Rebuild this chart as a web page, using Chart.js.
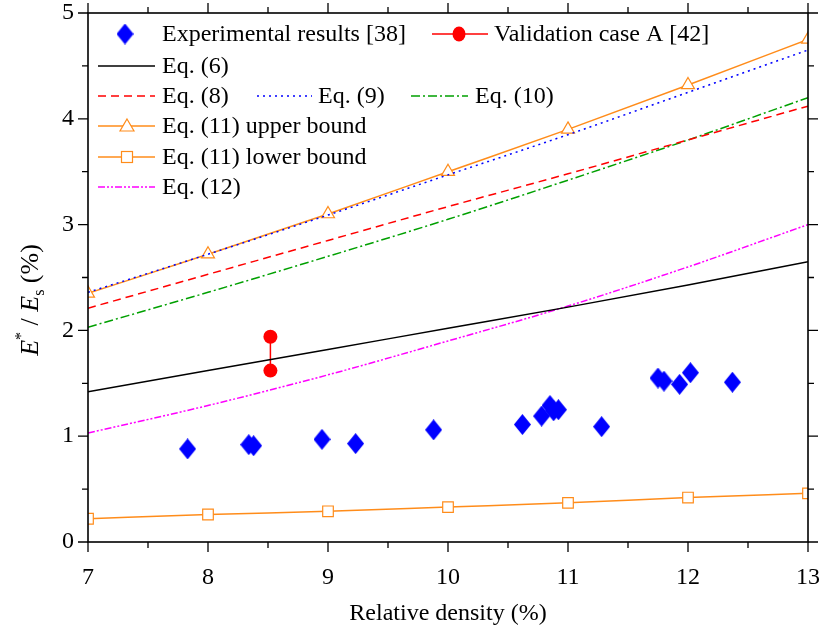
<!DOCTYPE html>
<html>
<head>
<meta charset="utf-8">
<script src="https://cdn.jsdelivr.net/npm/chart.js@4.4.0/dist/chart.umd.min.js"></script>
<style>
  html, body { margin: 0; padding: 0; background: #fff; }
</style>
</head>
<body>
<canvas id="chart" width="821" height="635"></canvas>
<script>
// ===== DATA =====
const densityEq = [7, 8, 9, 10, 11, 12, 13];
const expX = [7.83, 8.34, 8.38, 8.95, 9.23, 9.88, 10.62, 10.78, 10.85, 10.88, 10.92, 11.28, 11.75, 11.80, 11.93, 12.02, 12.37];
const expY = [0.88, 0.92, 0.91, 0.97, 0.93, 1.06, 1.11, 1.19, 1.29, 1.24, 1.25, 1.09, 1.55, 1.52, 1.49, 1.60, 1.51];
const valX = [8.52, 8.52];
const valY = [1.94, 1.62];
const eq6 = [1.42, 1.62, 1.82, 2.02, 2.22, 2.43, 2.65];
const eq8 = [2.21, 2.53, 2.85, 3.17, 3.48, 3.80, 4.12];
const eq9 = [2.36, 2.72, 3.09, 3.47, 3.85, 4.25, 4.65];
const eq10 = [2.03, 2.36, 2.70, 3.05, 3.42, 3.80, 4.20];
const eq11Upper = [2.35, 2.72, 3.10, 3.50, 3.90, 4.32, 4.75];
const eq11Lower = [0.22, 0.26, 0.29, 0.33, 0.37, 0.42, 0.46];
const eq12 = [1.03, 1.29, 1.58, 1.90, 2.23, 2.60, 3.00];
const xTicks = [7, 8, 9, 10, 11, 12, 13];
const yTicks = [0, 1, 2, 3, 4, 5];

const ORANGE = '#ff8c1a';
const SERIF = '"Liberation Serif", "Times New Roman", serif';

const pts = (xs, ys) => xs.map((x, i) => ({ x: x, y: ys[i] }));

// diamond marker (a bit taller than wide, like the original)
function makeDiamond(w, h, color) {
  const c = document.createElement('canvas');
  c.width = w; c.height = h;
  const g = c.getContext('2d');
  g.fillStyle = color;
  g.beginPath();
  g.moveTo(w / 2, 0); g.lineTo(w, h / 2); g.lineTo(w / 2, h); g.lineTo(0, h / 2);
  g.closePath(); g.fill();
  return c;
}
const diamond = makeDiamond(17, 21, '#0000ff');

function lineSet(label, data, color, dash, extra) {
  return Object.assign({
    label: label,
    data: pts(densityEq, data),
    showLine: true,
    borderColor: color,
    borderWidth: 1.5,
    borderDash: dash,
    pointRadius: 0,
    tension: 0.3,
    cubicInterpolationMode: 'monotone'
  }, extra || {});
}

// ===== LEGEND + FRAME PLUGIN =====
function drawMarker(ctx, kind, x, y) {
  ctx.save();
  ctx.setLineDash([]);
  if (kind === 'diamond') {
    ctx.drawImage(diamond, x - 8.5, y - 10.5);
  } else if (kind === 'circle') {
    ctx.fillStyle = '#ff0000';
    ctx.beginPath(); ctx.ellipse(x, y, 6.5, 7.5, 0, 0, Math.PI * 2); ctx.fill();
  } else if (kind === 'triangle') {
    ctx.fillStyle = '#fff'; ctx.strokeStyle = ORANGE; ctx.lineWidth = 1.2;
    ctx.beginPath(); ctx.moveTo(x, y - 7); ctx.lineTo(x + 7, y + 5); ctx.lineTo(x - 7, y + 5); ctx.closePath();
    ctx.fill(); ctx.stroke();
  } else if (kind === 'square') {
    ctx.fillStyle = '#fff'; ctx.strokeStyle = ORANGE; ctx.lineWidth = 1.2;
    ctx.fillRect(x - 5.5, y - 5.5, 11, 11); ctx.strokeRect(x - 5.5, y - 5.5, 11, 11);
  }
  ctx.restore();
}

const legendItems = [
  { text: 'Experimental results [38]', x0: null, x1: null, mx: 125, tx: 162, y: 34, marker: 'diamond' },
  { text: 'Validation case A [42]', x0: 432, x1: 488, mx: 459, tx: 494, y: 34, color: '#ff0000', dash: [], marker: 'circle' },
  { text: 'Eq. (6)', x0: 98, x1: 155, tx: 162, y: 66, color: '#000', dash: [] },
  { text: 'Eq. (8)', x0: 98, x1: 155, tx: 162, y: 96, color: '#ff0000', dash: [8, 5] },
  { text: 'Eq. (9)', x0: 257, x1: 312, tx: 318, y: 96, color: '#0000ff', dash: [2, 4] },
  { text: 'Eq. (10)', x0: 411, x1: 468, tx: 475, y: 96, color: '#00a000', dash: [9, 3, 2, 3] },
  { text: 'Eq. (11) upper bound', x0: 98, x1: 155, mx: 127, tx: 162, y: 126, color: ORANGE, dash: [], marker: 'triangle' },
  { text: 'Eq. (11) lower bound', x0: 98, x1: 155, mx: 127, tx: 162, y: 157, color: ORANGE, dash: [], marker: 'square' },
  { text: 'Eq. (12)', x0: 98, x1: 155, tx: 162, y: 187, color: '#ff00ff', dash: [7, 2, 2, 2, 2, 2] }
];

const decor = {
  id: 'decor',
  afterDatasetsDraw(chart) {
    const ctx = chart.ctx;
    const a = chart.chartArea;
    const xs = chart.scales.x, ys = chart.scales.y;
    ctx.save();
    // frame
    ctx.strokeStyle = '#000';
    ctx.lineWidth = 1.6;
    ctx.setLineDash([]);
    ctx.strokeRect(a.left, a.top, a.right - a.left, a.bottom - a.top);
    // ticks (outward) on all four sides, major at 1, minor at 0.5
    ctx.lineWidth = 1.3;
    ctx.beginPath();
    for (let v = 7; v <= 13.001; v += 0.5) {
      const p = xs.getPixelForValue(v);
      const len = Number.isInteger(v) ? 10 : 6;
      ctx.moveTo(p, a.bottom); ctx.lineTo(p, a.bottom + len);
      ctx.moveTo(p, a.top); ctx.lineTo(p, a.top - len);
    }
    for (let v = 0; v <= 5.001; v += 0.5) {
      const p = ys.getPixelForValue(v);
      const len = Number.isInteger(v) ? 10 : 6;
      ctx.moveTo(a.left, p); ctx.lineTo(a.left - len, p);
      ctx.moveTo(a.right, p); ctx.lineTo(a.right + len, p);
    }
    ctx.stroke();

    // legend
    ctx.font = '24px ' + SERIF;
    ctx.fillStyle = '#000';
    ctx.textBaseline = 'middle';
    legendItems.forEach(it => {
      if (it.x0 !== null && it.x0 !== undefined) {
        ctx.save();
        ctx.strokeStyle = it.color; ctx.lineWidth = 1.5; ctx.setLineDash(it.dash);
        ctx.beginPath(); ctx.moveTo(it.x0, it.y); ctx.lineTo(it.x1, it.y); ctx.stroke();
        ctx.restore();
      }
      if (it.marker) drawMarker(ctx, it.marker, it.mx, it.y);
      ctx.fillStyle = '#000';
      ctx.fillText(it.text, it.tx, it.y + 1);
    });

    // x axis title
    ctx.textAlign = 'center';
    ctx.textBaseline = 'alphabetic';
    ctx.font = '24px ' + SERIF;
    ctx.fillText('Relative density (%)', (a.left + a.right) / 2, 620);

    // y axis title: E* / Es (%)
    ctx.save();
    ctx.translate(38, 300);
    ctx.rotate(-Math.PI / 2);
    const parts = [
      { t: 'E', f: 'italic 26px ' + SERIF, dy: 0 },
      { t: '*', f: '16px ' + SERIF, dy: -12 },
      { t: ' / ', f: '26px ' + SERIF, dy: 0 },
      { t: 'E', f: 'italic 26px ' + SERIF, dy: 0 },
      { t: 's', f: '16px ' + SERIF, dy: 6 },
      { t: ' (%)', f: '26px ' + SERIF, dy: 0 }
    ];
    let total = 0;
    parts.forEach(p => { ctx.font = p.f; p.w = ctx.measureText(p.t).width; total += p.w; });
    let cx = -total / 2;
    ctx.textAlign = 'left';
    parts.forEach(p => { ctx.font = p.f; ctx.fillText(p.t, cx, p.dy); cx += p.w; });
    ctx.restore();

    ctx.restore();
  }
};

// ===== CHART =====
const ctx = document.getElementById('chart');
new Chart(ctx, {
  type: 'scatter',
  data: {
    datasets: [
      lineSet('Eq. (6)', eq6, '#000000', []),
      lineSet('Eq. (8)', eq8, '#ff0000', [8, 5]),
      lineSet('Eq. (10)', eq10, '#00a000', [9, 3, 2, 3]),
      lineSet('Eq. (12)', eq12, '#ff00ff', [7, 2, 2, 2, 2, 2]),
      lineSet('Eq. (9)', eq9, '#0000ff', [2, 4]),
      lineSet('Eq. (11) lower bound', eq11Lower, ORANGE, [], {
        pointStyle: 'rect', pointRadius: 7.5, pointBackgroundColor: '#fff',
        pointBorderColor: ORANGE, pointBorderWidth: 1.2, tension: 0
      }),
      lineSet('Eq. (11) upper bound', eq11Upper, ORANGE, [], {
        pointStyle: 'triangle', pointRadius: 7.5, pointBackgroundColor: '#fff',
        pointBorderColor: ORANGE, pointBorderWidth: 1.2, tension: 0
      }),
      {
        label: 'Validation case A [42]',
        data: pts(valX, valY),
        showLine: true,
        borderColor: '#ff0000',
        borderWidth: 1.5,
        pointStyle: 'circle',
        pointRadius: 7,
        pointBackgroundColor: '#ff0000',
        pointBorderWidth: 0
      },
      {
        label: 'Experimental results [38]',
        data: pts(expX, expY),
        pointStyle: diamond,
        pointRadius: 9
      }
    ]
  },
  options: {
    responsive: false,
    animation: false,
    layout: { padding: { left: 0, top: 13, right: 13, bottom: 0 } },
    plugins: {
      legend: { display: false },
      tooltip: { enabled: false }
    },
    scales: {
      x: {
        type: 'linear', min: 7, max: 13,
        afterBuildTicks: s => { s.ticks = xTicks.map(v => ({ value: v })); },
        afterFit: s => { s.height = 93; s.paddingLeft = 0; s.paddingRight = 0; },
        grid: { display: false },
        border: { display: false },
        ticks: { color: '#000', font: { family: SERIF, size: 24 }, padding: 13, maxRotation: 0 }
      },
      y: {
        type: 'linear', min: 0, max: 5,
        afterBuildTicks: s => { s.ticks = yTicks.map(v => ({ value: v })); },
        afterFit: s => { s.width = 88; s.paddingTop = 0; s.paddingBottom = 0; },
        grid: { display: false },
        border: { display: false },
        ticks: { color: '#000', font: { family: SERIF, size: 24 }, padding: 6 }
      }
    }
  },
  plugins: [decor]
});
</script>
</body>
</html>
